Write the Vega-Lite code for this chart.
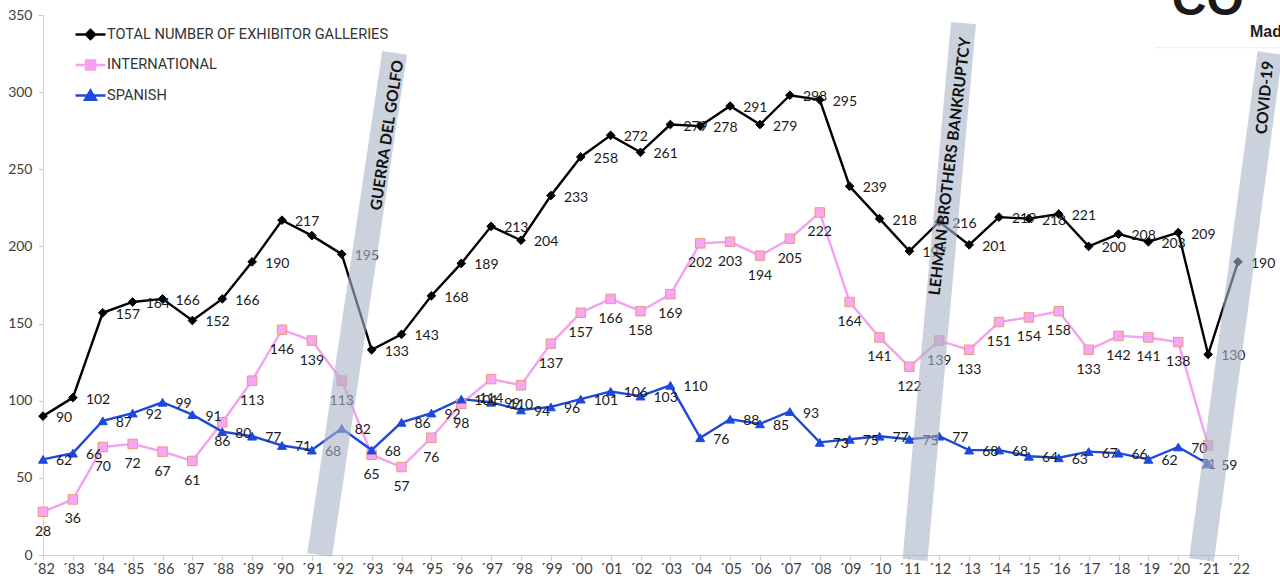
{
  "$schema": "https://vega.github.io/schema/vega-lite/v6.json",
  "width": 1195,
  "height": 540,
  "autosize": {"type": "none"},
  "padding": {"left": 43, "right": 42, "top": 15, "bottom": 29},
  "background": "white",
  "config": {"view": {"stroke": null}, "font": "Lato", "axis": {"labelOverlap": false}},
  "encoding": {
    "x": {
      "field": "year",
      "type": "quantitative",
      "scale": {"domain": [1982, 2022], "nice": false, "zero": false},
      "axis": {
        "title": null,
        "grid": false,
        "values": [1982, 1983, 1984, 1985, 1986, 1987, 1988, 1989, 1990, 1991, 1992, 1993, 1994, 1995, 1996, 1997, 1998, 1999, 2000, 2001, 2002, 2003, 2004, 2005, 2006, 2007, 2008, 2009, 2010, 2011, 2012, 2013, 2014, 2015, 2016, 2017, 2018, 2019, 2020, 2021, 2022],
        "labelExpr": "'´' + substring(toString(datum.value), 2)",
        "labelOverlap": false,
        "labelFlush": false,
        "labelFont": "Lato",
        "labelFontSize": 14.5,
        "labelColor": "#404040",
        "labelPadding": 2,
        "domainColor": "#d0d0d0",
        "tickColor": "#d0d0d0",
        "tickSize": 5
      }
    },
    "y": {
      "field": "value",
      "type": "quantitative",
      "scale": {"domain": [0, 350], "nice": false},
      "axis": {
        "title": null,
        "grid": false,
        "values": [0, 50, 100, 150, 200, 250, 300, 350],
        "labelOverlap": false,
        "labelFont": "Lato",
        "labelFontSize": 14,
        "labelColor": "#404040",
        "labelPadding": 6,
        "domainColor": "#d0d0d0",
        "tickColor": "#d0d0d0",
        "tickSize": 5
      }
    }
  },
  "layer": [
    {
      "data": {
        "values": [
          {"year": 1982, "total": 90, "international": 28, "spanish": 62},
          {"year": 1983, "total": 102, "international": 36, "spanish": 66},
          {"year": 1984, "total": 157, "international": 70, "spanish": 87},
          {"year": 1985, "total": 164, "international": 72, "spanish": 92},
          {"year": 1986, "total": 166, "international": 67, "spanish": 99},
          {"year": 1987, "total": 152, "international": 61, "spanish": 91},
          {"year": 1988, "total": 166, "international": 86, "spanish": 80},
          {"year": 1989, "total": 190, "international": 113, "spanish": 77},
          {"year": 1990, "total": 217, "international": 146, "spanish": 71},
          {"year": 1991, "total": 207, "international": 139, "spanish": 68},
          {"year": 1992, "total": 195, "international": 113, "spanish": 82},
          {"year": 1993, "total": 133, "international": 65, "spanish": 68},
          {"year": 1994, "total": 143, "international": 57, "spanish": 86},
          {"year": 1995, "total": 168, "international": 76, "spanish": 92},
          {"year": 1996, "total": 189, "international": 98, "spanish": 101},
          {"year": 1997, "total": 213, "international": 114, "spanish": 99},
          {"year": 1998, "total": 204, "international": 110, "spanish": 94},
          {"year": 1999, "total": 233, "international": 137, "spanish": 96},
          {"year": 2000, "total": 258, "international": 157, "spanish": 101},
          {"year": 2001, "total": 272, "international": 166, "spanish": 106},
          {"year": 2002, "total": 261, "international": 158, "spanish": 103},
          {"year": 2003, "total": 279, "international": 169, "spanish": 110},
          {"year": 2004, "total": 278, "international": 202, "spanish": 76},
          {"year": 2005, "total": 291, "international": 203, "spanish": 88},
          {"year": 2006, "total": 279, "international": 194, "spanish": 85},
          {"year": 2007, "total": 298, "international": 205, "spanish": 93},
          {"year": 2008, "total": 295, "international": 222, "spanish": 73},
          {"year": 2009, "total": 239, "international": 164, "spanish": 75},
          {"year": 2010, "total": 218, "international": 141, "spanish": 77},
          {"year": 2011, "total": 197, "international": 122, "spanish": 75},
          {"year": 2012, "total": 216, "international": 139, "spanish": 77},
          {"year": 2013, "total": 201, "international": 133, "spanish": 68},
          {"year": 2014, "total": 219, "international": 151, "spanish": 68},
          {"year": 2015, "total": 218, "international": 154, "spanish": 64},
          {"year": 2016, "total": 221, "international": 158, "spanish": 63},
          {"year": 2017, "total": 200, "international": 133, "spanish": 67},
          {"year": 2018, "total": 208, "international": 142, "spanish": 66},
          {"year": 2019, "total": 203, "international": 141, "spanish": 62},
          {"year": 2020, "total": 209, "international": 138, "spanish": 70},
          {"year": 2021, "total": 130, "international": 71, "spanish": 59},
          {"year": 2022, "total": 190, "international": null, "spanish": null}
        ]
      },
      "transform": [
        {"fold": ["total", "international", "spanish"], "as": ["series", "value"]},
        {"filter": "datum.value != null"}
      ],
      "layer": [
        {
          "mark": {"type": "line", "strokeJoin": "miter", "strokeWidth": 2.4},
          "encoding": {
            "color": {
              "field": "series",
              "type": "nominal",
              "scale": {"domain": ["total", "international", "spanish"], "range": ["#000000", "#f5a0f0", "#1e48dc"]},
              "legend": {
                "title": null,
                "orient": "none",
                "legendX": 31,
                "legendY": 3,
                "padding": 0,
                "offset": 0,
                "rowPadding": 4.5,
                "labelOffset": 0,
                "labelLimit": 500,
                "labelFont": "Roboto",
                "labelFontSize": 14.6,
                "labelColor": "#333333",
                "symbolSize": 900,
                "symbolStrokeWidth": 2.5,
                "labelExpr": "datum.value == 'total' ? 'TOTAL NUMBER OF EXHIBITOR GALLERIES' : datum.value == 'international' ? 'INTERNATIONAL' : 'SPANISH'",
                "encode": {
                  "symbols": {
                    "update": {
                      "shape": {"signal": "datum.value == 'total' ? 'M-1,0L1,0M0,-0.3L0.3,0L0,0.3L-0.3,0Z' : datum.value == 'international' ? 'M-1,0L1,0M-0.3,-0.3L0.3,-0.3L0.3,0.3L-0.3,0.3Z' : 'M-1,0L1,0M0,-0.33L0.36,0.28L-0.36,0.28Z'"},
                      "fill": {"signal": "scale('color', datum.value)"},
                      "stroke": {"signal": "scale('color', datum.value)"},
                      "size": {"value": 900},
                      "opacity": {"value": 1}
                    }
                  }
                }
              }
            }
          }
        },
        {
          "transform": [{"filter": "datum.series == 'total'"}],
          "mark": {"type": "point", "shape": "diamond", "filled": true, "fill": "#000000", "stroke": "#000000", "strokeWidth": 1, "size": 75, "opacity": 1}
        },
        {
          "transform": [{"filter": "datum.series == 'international'"}],
          "mark": {"type": "point", "shape": "square", "filled": true, "fill": "#f8a6f4", "stroke": "#ea9a78", "strokeWidth": 1, "size": 90, "opacity": 1}
        },
        {
          "transform": [{"filter": "datum.series == 'spanish'"}],
          "mark": {"type": "point", "shape": "triangle-up", "filled": true, "fill": "#1e48dc", "stroke": "#1e48dc", "strokeWidth": 1, "size": 80, "opacity": 1}
        },
        {
          "transform": [{"filter": "datum.series == 'total' && datum.year != 1991"}],
          "mark": {"type": "text", "align": "left", "baseline": "middle", "dx": 13, "dy": 2, "font": "Lato", "fontSize": 14, "color": "#1a1a1a"},
          "encoding": {"text": {"field": "value", "type": "quantitative"}}
        },
        {
          "transform": [{"filter": "datum.series == 'spanish'"}],
          "mark": {"type": "text", "align": "left", "baseline": "middle", "dx": 13, "dy": 2, "font": "Lato", "fontSize": 14, "color": "#1a1a1a"},
          "encoding": {"text": {"field": "value", "type": "quantitative"}}
        },
        {
          "transform": [{"filter": "datum.series == 'international'"}],
          "mark": {"type": "text", "align": "center", "baseline": "middle", "dy": 20, "font": "Lato", "fontSize": 14, "color": "#1a1a1a"},
          "encoding": {"text": {"field": "value", "type": "quantitative"}}
        }
      ]
    },
    {
      "data": {
        "values": [
          {"event": "GUERRA DEL GOLFO", "year": 1991.26, "value": 0, "year2": 1993.77, "value2": 325.4},
          {"event": "LEHMAN BROTHERS BANKRUPTCY", "year": 2011.19, "value": -3.2, "year2": 2012.81, "value2": 344.8},
          {"event": "COVID-19", "year": 2020.78, "value": -3.2, "year2": 2023.07, "value2": 325.4}
        ]
      },
      "mark": {"type": "rule", "color": "#a9b4c6", "opacity": 0.6, "strokeWidth": 25, "strokeCap": "butt"},
      "encoding": {
        "x2": {"field": "year2"},
        "y2": {"field": "value2"}
      }
    },
    {
      "data": {
        "values": [
          {"event": "GUERRA DEL GOLFO", "year": 1993.52, "value": 272},
          {"event": "LEHMAN BROTHERS BANKRUPTCY", "year": 2012.36, "value": 252},
          {"event": "COVID-19", "year": 2022.9, "value": 296.5}
        ]
      },
      "mark": {"type": "text", "align": "center", "baseline": "middle", "font": "Lato", "fontWeight": "bold", "fontSize": 15.6, "color": "#111111"},
      "encoding": {
        "text": {"field": "event", "type": "nominal"},
        "angle": {
          "field": "event",
          "type": "nominal",
          "scale": {"domain": ["GUERRA DEL GOLFO", "LEHMAN BROTHERS BANKRUPTCY", "COVID-19"], "range": [278.5, 275.2, 277.7]},
          "legend": null
        }
      }
    },
    {
      "data": {"values": [{"label": "CO", "year": 2020.99, "value": 350}]},
      "mark": {"type": "text", "align": "center", "baseline": "alphabetic", "font": "Liberation Sans", "fontWeight": "bold", "fontSize": 48, "color": "#1a1a1a"},
      "encoding": {"text": {"field": "label", "type": "nominal"}}
    },
    {
      "data": {"values": [{"label": "Madrid", "year": 2022.4, "value": 335.7}]},
      "mark": {"type": "text", "align": "left", "baseline": "alphabetic", "font": "Liberation Sans", "fontWeight": "bold", "fontSize": 16, "color": "#222222"},
      "encoding": {"text": {"field": "label", "type": "nominal"}}
    },
    {
      "data": {"values": [{"year": 2019.22, "year2": 2023.6, "value": 328.8}]},
      "mark": {"type": "rule", "color": "#ececec", "strokeWidth": 1},
      "encoding": {"x2": {"field": "year2"}}
    }
  ]
}
